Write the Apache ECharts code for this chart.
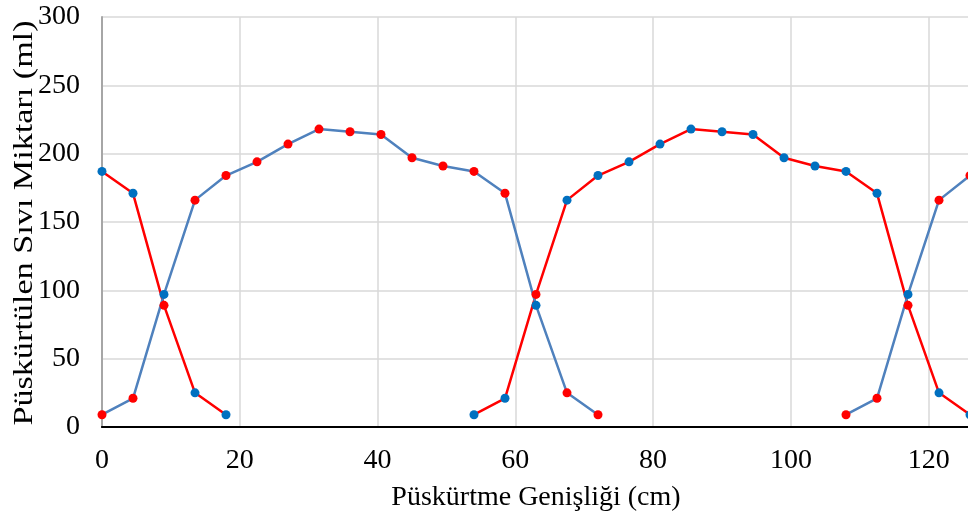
<!DOCTYPE html>
<html>
<head>
<meta charset="utf-8">
<script src="https://cdn.jsdelivr.net/npm/echarts@6/dist/echarts.min.js"></script>
<style>
  html, body { margin: 0; padding: 0; background: #fff; }
  #chart { width: 968px; height: 518px; }
</style>
</head>
<body>
<div id="chart"></div>
<script>
// x positions (cm) and amounts (ml)
const xBlue1 = [0, 4.5, 9, 13.5, 18, 22.5, 27, 31.5, 36, 40.5, 45, 49.5, 54, 58.5, 63, 67.5, 72];
const yBlue1 = [9, 21, 97, 166, 184, 194, 207, 218, 216, 214, 197, 191, 187, 171, 89, 25, 9];
const xBlue2 = [108, 112.5, 117, 121.5, 126];
const yBlue2 = [9, 21, 97, 166, 184];
const xRed1 = [0, 4.5, 9, 13.5, 18];
const yRed1 = [187, 171, 89, 25, 9];
const xRed2 = [54, 58.5, 63, 67.5, 72, 76.5, 81, 85.5, 90, 94.5, 99, 103.5, 108, 112.5, 117, 121.5, 126];
const yRed2 = [9, 21, 97, 166, 184, 194, 207, 218, 216, 214, 197, 191, 187, 171, 89, 25, 9];
// points where a line keeps its own marker colour
const crossX = [9, 63, 117];

const blueLine = '#4f81bd';
const blueDot = '#0070c0';
const redLine = '#ff0000';

const chart = echarts.init(document.getElementById('chart'));

function makeSeries(xs, ys, lineColor, ownDot, otherDot) {
  return {
    type: 'line',
    xAxisIndex: 0,
    data: xs.map((x, i) => [x, ys[i]]),
    symbol: 'circle',
    symbolSize: 9,
    showAllSymbol: true,
    lineStyle: { color: lineColor, width: 2.5 },
    itemStyle: {
      color: (p) => crossX.indexOf(p.data[0]) >= 0 ? ownDot : otherDot
    },
    emphasis: { disabled: true },
    animation: false
  };
}

const font = 'Liberation Serif, Times New Roman, serif';

chart.setOption({
  animation: false,
  grid: { left: 102, top: 17, right: -2, bottom: 91, outerBoundsMode: 'none', containLabel: false },
  // y axis title, a bit stretched along its length like the original
  graphic: [{
    type: 'text',
    x: 25,
    y: 223,
    rotation: Math.PI / 2,
    scaleX: 1.22,
    style: {
      text: 'Püskürtülen Sıvı Miktarı (ml)',
      font: '28px ' + font,
      fill: '#000',
      align: 'center',
      verticalAlign: 'middle'
    }
  }],
  xAxis: [
    {
      type: 'value',
      min: 0,
      max: 126,
      interval: 20,
      name: 'Püskürtme Genişliği (cm)',
      nameLocation: 'middle',
      nameGap: 57,
      nameTextStyle: { fontFamily: font, fontSize: 28, color: '#000' },
      axisLine: { show: true, onZero: false, lineStyle: { color: '#000', width: 2 } },
      axisTick: { show: false },
      axisLabel: {
        fontFamily: font, fontSize: 28, color: '#000', margin: 20,
        showMaxLabel: false
      },
      splitLine: { show: true, lineStyle: { color: '#d9d9d9', width: 1.5 } }
    },
    {
      type: 'value',
      position: 'top',
      min: 0,
      max: 126,
      axisLine: { show: true, lineStyle: { color: '#000', width: 1.5 } },
      axisTick: { show: false },
      axisLabel: { show: false },
      splitLine: { show: false }
    }
  ],
  yAxis: {
    type: 'value',
    min: 0,
    max: 300,
    interval: 50,
    axisLine: { show: true, lineStyle: { color: '#a6a6a6', width: 2 } },
    axisTick: { show: false },
    axisLabel: { fontFamily: font, fontSize: 28, color: '#000', margin: 22 },
    splitLine: { show: true, lineStyle: { color: '#d9d9d9', width: 1.5 } }
  },
  series: [
    makeSeries(xRed1, yRed1, redLine, redLine, blueDot),
    makeSeries(xRed2, yRed2, redLine, redLine, blueDot),
    makeSeries(xBlue1, yBlue1, blueLine, blueDot, redLine),
    makeSeries(xBlue2, yBlue2, blueLine, blueDot, redLine)
  ]
});
</script>
</body>
</html>
